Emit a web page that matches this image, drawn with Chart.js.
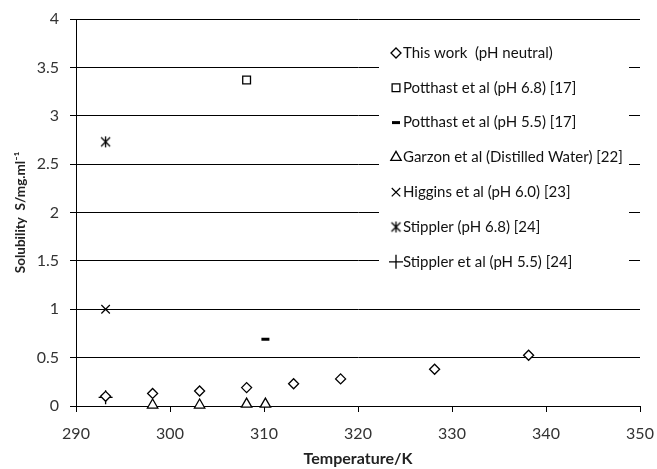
<!DOCTYPE html>
<html>
<head>
<meta charset="utf-8">
<script src="https://cdn.jsdelivr.net/npm/chart.js@4"></script>
<style>
  html, body { margin: 0; padding: 0; background: #fff; }
  #wrap { width: 657px; height: 469px; }
</style>
</head>
<body>
<div id="wrap"><canvas id="chart1" width="657" height="469"></canvas></div>
<script>
// data (temperature in K, solubility in mg/ml)
var workT = [293.15, 298.15, 303.15, 308.15, 313.15, 318.15, 328.15, 338.15];
var workS = [0.10, 0.13, 0.155, 0.19, 0.23, 0.28, 0.38, 0.525];

var potthast68T = [308.15];
var potthast68S = [3.37];

var potthast55T = [310.15];
var potthast55S = [0.69];

var garzonT = [298.15, 303.15, 308.15, 310.15];
var garzonS = [0.01, 0.01, 0.02, 0.02];

var higginsT = [293.15];
var higginsS = [1.0];

var stippler68T = [293.15];
var stippler68S = [2.73];

var stippler55T = [293.15];
var stippler55S = [0.09];

var seriesLabels = [
  "This work  (pH neutral)",
  "Potthast et al (pH 6.8) [17]",
  "Potthast et al (pH 5.5) [17]",
  "Garzon et al (Distilled Water) [22]",
  "Higgins et al (pH 6.0) [23]",
  "Stippler (pH 6.8) [24]",
  "Stippler et al (pH 5.5) [24]"
];

var xTicks = [290, 300, 310, 320, 330, 340, 350];
var yTicks = [0, 0.5, 1, 1.5, 2, 2.5, 3, 3.5, 4];

function toPoints(xs, ys) {
  return xs.map(function (x, i) { return { x: x, y: ys[i] }; });
}

// asterisk marker (x with a vertical bar)
var asterisk = document.createElement("canvas");
asterisk.width = 13;
asterisk.height = 13;
(function () {
  var c = asterisk.getContext("2d");
  c.strokeStyle = "#000";
  c.lineWidth = 1.3;
  c.beginPath();
  c.moveTo(2, 2); c.lineTo(11, 11);
  c.moveTo(11, 2); c.lineTo(2, 11);
  c.moveTo(6.5, 1); c.lineTo(6.5, 12);
  c.stroke();
})();

function marker(label, data, style, radius, width) {
  return {
    label: label,
    data: data,
    showLine: false,
    clip: false,
    pointStyle: style,
    pointRadius: radius,
    pointHoverRadius: radius,
    pointBorderWidth: width,
    pointBorderColor: "#000",
    pointBackgroundColor: "#fff",
    borderColor: "#000",
    backgroundColor: "#fff"
  };
}

// legend drawn as a white box inside the plot area
var insideLegend = {
  id: "insideLegend",
  beforeDatasetsDraw: function (chart) {
    var ctx = chart.ctx;
    var area = chart.chartArea;
    var boxLeft = area.right - 261;
    ctx.save();
    ctx.fillStyle = "#fff";
    ctx.fillRect(boxLeft, area.top + 5, 250, 262);
    ctx.font = "15px Lato";
    ctx.textBaseline = "middle";
    chart.data.datasets.forEach(function (ds, i) {
      var y = area.top + 34 + i * 34.8;
      var mx = boxLeft + 17;
      ctx.strokeStyle = "#000";
      ctx.fillStyle = "#fff";
      ctx.lineWidth = ds.pointBorderWidth;
      Chart.helpers.drawPoint(ctx, {
        pointStyle: ds.pointStyle,
        radius: ds.pointRadius,
        rotation: 0,
        borderWidth: ds.pointBorderWidth
      }, mx, y);
      ctx.fillStyle = "#111";
      ctx.fillText(ds.label, mx + 7, y);
    });
    ctx.restore();
  }
};

var ctx = document.getElementById("chart1").getContext("2d");

var myChart = new Chart(ctx, {
  type: "scatter",
  data: {
    datasets: [
      marker(seriesLabels[0], toPoints(workT, workS), "rectRot", 5, 1.3),
      marker(seriesLabels[1], toPoints(potthast68T, potthast68S), "rect", 5.5, 1.3),
      marker(seriesLabels[2], toPoints(potthast55T, potthast55S), "line", 4, 3),
      marker(seriesLabels[3], toPoints(garzonT, garzonS), "triangle", 6, 1.3),
      marker(seriesLabels[4], toPoints(higginsT, higginsS), "crossRot", 6, 1.2),
      marker(seriesLabels[5], toPoints(stippler68T, stippler68S), asterisk, 6.5, 1.2),
      marker(seriesLabels[6], toPoints(stippler55T, stippler55S), "cross", 7, 1.3)
    ]
  },
  plugins: [insideLegend],
  options: {
    responsive: false,
    animation: false,
    layout: {
      padding: { top: 19, right: 17, left: 0, bottom: 0 }
    },
    plugins: {
      legend: { display: false },
      tooltip: { enabled: false }
    },
    scales: {
      x: {
        type: "linear",
        min: 290,
        max: 350,
        afterBuildTicks: function (scale) {
          scale.ticks = xTicks.map(function (v) { return { value: v }; });
        },
        afterFit: function (scale) {
          scale.height = 63;
          scale.paddingLeft = 0;
          scale.paddingRight = 0;
        },
        grid: {
          drawOnChartArea: false,
          drawTicks: true,
          tickLength: 6,
          color: "#000"
        },
        border: { display: true, color: "#000", width: 1 },
        ticks: {
          color: "#333",
          font: { family: "Lato", size: 16 },
          padding: 12,
          maxRotation: 0,
          callback: function (v) { return String(v); }
        },
        title: {
          display: true,
          text: "Temperature/K",
          color: "#222",
          font: { family: "Lato", size: 16, weight: "bold" },
          padding: { top: 2, bottom: 1 }
        }
      },
      y: {
        type: "linear",
        min: 0,
        max: 4,
        afterBuildTicks: function (scale) {
          scale.ticks = yTicks.map(function (v) { return { value: v }; });
        },
        afterFit: function (scale) {
          scale.width = 76;
          scale.paddingTop = 0;
          scale.paddingBottom = 0;
        },
        grid: {
          color: "#000",
          lineWidth: 1,
          drawTicks: true,
          tickLength: 6
        },
        border: { display: true, color: "#000", width: 1 },
        ticks: {
          color: "#333",
          font: { family: "Lato", size: 16 },
          padding: 11,
          callback: function (v) { return String(v); }
        },
        title: {
          display: true,
          text: "Solubility  S/mg.ml\u207B\u00B9",
          color: "#222",
          font: { family: "Lato", size: 13.5, weight: "bold" },
          padding: { top: 13, bottom: 0 }
        }
      }
    }
  }
});
</script>
</body>
</html>
